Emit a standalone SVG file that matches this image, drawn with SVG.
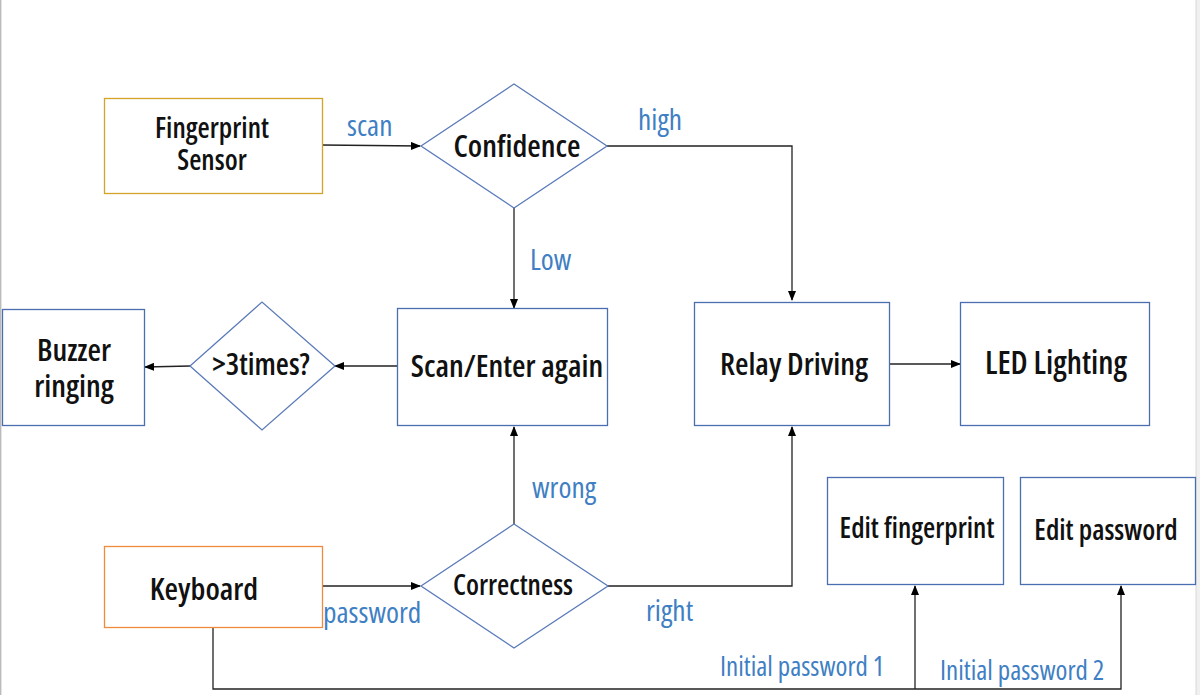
<svg xmlns="http://www.w3.org/2000/svg" width="1200" height="695" viewBox="0 0 1200 695">
<defs>
<marker id="ah" markerWidth="10" markerHeight="8" refX="9" refY="4" orient="auto" markerUnits="userSpaceOnUse">
<path d="M0,0 L10,4 L0,8 Z" fill="#000"/>
</marker>
<style>
.box{fill:#fff;stroke:#4a6fb0;stroke-width:1.3}
.dia{fill:#fff;stroke:#5a7ab8;stroke-width:1.3}
.t{font-family:"Open Sans","Noto Sans","Liberation Sans",sans-serif;font-size:28px;font-weight:600;fill:#111;text-anchor:middle;font-stretch:condensed}
.big{font-size:31px}
.lbl{font-family:"Open Sans","Noto Sans","Liberation Sans",sans-serif;font-size:29.5px;fill:#3f7fc4;font-stretch:condensed}
.sm{font-size:27px}
.c{fill:none;stroke:#222;stroke-width:1.3}
</style>
</defs>
<rect width="1200" height="695" fill="#fff"/>
<line x1="0.7" y1="0" x2="0.7" y2="695" stroke="#bbb" stroke-width="1.4"/>
<rect x="1196" y="0" width="4" height="695" fill="#f0f0f0"/>
<line x1="1196" y1="0" x2="1196" y2="695" stroke="#d8d8d8" stroke-width="1"/>

<g id="connectors">
<path class="c" d="M322,145 L420,146" marker-end="url(#ah)"/>
<path class="c" d="M607,146 L792,146 L792,300" marker-end="url(#ah)"/>
<path class="c" d="M514,208 L514,308" marker-end="url(#ah)"/>
<path class="c" d="M397,366 L335,366" marker-end="url(#ah)"/>
<path class="c" d="M190,366 L145,367" marker-end="url(#ah)"/>
<path class="c" d="M885,364 L960,364" marker-end="url(#ah)"/>
<path class="c" d="M322,586 L420,586" marker-end="url(#ah)"/>
<path class="c" d="M514,524 L514,427" marker-end="url(#ah)"/>
<path class="c" d="M607,586 L792,586 L792,427" marker-end="url(#ah)"/>
<path class="c" d="M213,627 L213,689 L1121,689 L1121,586" marker-end="url(#ah)"/>
<path class="c" d="M915,689 L915,586" marker-end="url(#ah)"/>
</g>

<g id="fingerprint-sensor">
<rect x="104.5" y="98.5" width="218" height="95" fill="#fff" stroke="#d4a32a" stroke-width="1.3"/>
<text class="t" x="212" y="138"><tspan x="212" y="138">Fingerprint</tspan><tspan x="212" y="170">Sensor</tspan></text>
</g>
<g id="confidence">
<polygon class="dia" points="421,146 514,84 607,146 514,208"/>
<text class="t big" x="517" y="157">Confidence</text>
</g>
<g id="scan-enter-again">
<rect class="box" x="397.5" y="308.5" width="210" height="117"/>
<text class="t big" x="507" y="377">Scan/Enter again</text>
</g>
<g id="three-times">
<polygon class="dia" points="190,366 262,302 335,366 262,430"/>
<text class="t" x="261" y="375" style="font-size:30px">&gt;3times?</text>
</g>
<g id="buzzer-ringing">
<rect class="box" x="2.5" y="309.5" width="142" height="116"/>
<text class="t big" x="74" y="361"><tspan x="74" y="361">Buzzer</tspan><tspan x="74" y="397">ringing</tspan></text>
</g>
<g id="relay-driving">
<rect class="box" x="694.5" y="302.5" width="195" height="123"/>
<text class="t big" x="794" y="375">Relay Driving</text>
</g>
<g id="led-lighting">
<rect class="box" x="960.5" y="302.5" width="189" height="123"/>
<text class="t" x="1056" y="374" style="font-size:32px">LED Lighting</text>
</g>
<g id="keyboard">
<rect x="104.5" y="546.5" width="218" height="81" fill="#fff" stroke="#f08a3c" stroke-width="1.3"/>
<text class="t big" x="204" y="600">Keyboard</text>
</g>
<g id="correctness">
<polygon class="dia" points="421,586 514,524 608,586 514,648"/>
<text class="t" x="513" y="595">Correctness</text>
</g>
<g id="edit-fingerprint">
<rect class="box" x="827.5" y="477.5" width="176" height="107"/>
<text class="t" x="917" y="538">Edit fingerprint</text>
</g>
<g id="edit-password">
<rect class="box" x="1020.5" y="477.5" width="175" height="107"/>
<text class="t" x="1106" y="540">Edit password</text>
</g>

<g id="labels">
<text class="lbl" x="347" y="136">scan</text>
<text class="lbl" x="638" y="130">high</text>
<text class="lbl" x="530" y="270">Low</text>
<text class="lbl" x="532" y="498">wrong</text>
<text class="lbl" x="323" y="623">password</text>
<text class="lbl" x="646" y="621">right</text>
<text class="lbl sm" x="720" y="676">Initial password 1</text>
<text class="lbl sm" x="940" y="680">Initial password 2</text>
</g>
</svg>
